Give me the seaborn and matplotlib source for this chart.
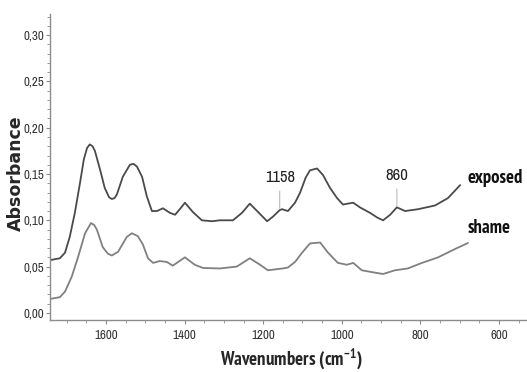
import matplotlib
matplotlib.use("Agg")
import matplotlib.pyplot as plt
import seaborn as sns
from matplotlib import font_manager
from matplotlib.font_manager import FontProperties
from matplotlib.ticker import MultipleLocator, FuncFormatter

# spectra (wavenumber in cm-1, absorbance)
exposed_wn = [1742, 1717, 1704, 1692, 1679, 1666, 1656, 1648, 1641, 1634, 1628, 1615,
              1603, 1592, 1585, 1578, 1572, 1557, 1539, 1530, 1521, 1508, 1496, 1483,
              1470, 1455, 1437, 1424, 1412, 1399, 1379, 1356, 1330, 1310, 1277, 1254,
              1234, 1213, 1190, 1175, 1158, 1152, 1137, 1119, 1106, 1092, 1081, 1063,
              1048, 1030, 1012, 997, 985, 971, 954, 928, 910, 895, 877, 860, 839, 806,
              763, 730, 699]
exposed_abs = [0.057, 0.059, 0.065, 0.082, 0.108, 0.140, 0.166, 0.178, 0.182, 0.180, 0.175, 0.155,
               0.135, 0.125, 0.123, 0.124, 0.128, 0.147, 0.160, 0.161, 0.158, 0.147, 0.126, 0.110,
               0.110, 0.113, 0.108, 0.106, 0.112, 0.119, 0.109, 0.100, 0.099, 0.100, 0.100, 0.108,
               0.118, 0.109, 0.099, 0.104, 0.111, 0.112, 0.110, 0.119, 0.130, 0.146, 0.154, 0.156,
               0.149, 0.135, 0.124, 0.117, 0.118, 0.119, 0.114, 0.108, 0.103, 0.100, 0.106, 0.114,
               0.110, 0.112, 0.116, 0.124, 0.138]

shame_wn = [1742, 1717, 1704, 1687, 1671, 1653, 1638, 1630, 1623, 1608, 1595, 1585,
            1569, 1547, 1534, 1519, 1506, 1493, 1480, 1463, 1445, 1430, 1399, 1374,
            1353, 1310, 1267, 1234, 1208, 1188, 1150, 1137, 1119, 1101, 1081, 1055,
            1035, 1010, 987, 971, 949, 923, 895, 865, 832, 796, 755, 712, 679]
shame_abs = [0.015, 0.017, 0.023, 0.039, 0.060, 0.086, 0.097, 0.095, 0.090, 0.071, 0.064, 0.062,
             0.066, 0.082, 0.086, 0.083, 0.074, 0.059, 0.054, 0.056, 0.055, 0.051, 0.060, 0.052,
             0.0485, 0.048, 0.050, 0.059, 0.052, 0.046, 0.048, 0.049, 0.055, 0.065, 0.075, 0.076,
             0.065, 0.054, 0.052, 0.054, 0.046, 0.044, 0.042, 0.046, 0.048, 0.054, 0.060, 0.069, 0.0755]

peak_labels = ["1158", "860"]
peak_wn = [1158, 860]
series_labels = ["exposed", "shame"]

sns.set_style("ticks")
plt.rcParams["font.family"] = ["Liberation Sans", "DejaVu Sans"]
plt.rcParams["mathtext.default"] = "regular"


def narrow_font(bold):
    # prefer an Arial Narrow-like face; otherwise plain Liberation Sans
    fonts = [f for f in font_manager.fontManager.ttflist if f.style == "normal"]
    for key in ("liberation sans narrow", "narrow"):
        for f in fonts:
            if key in f.name.lower() and (f.weight in (700, "bold")) == bold:
                return FontProperties(fname=f.fname)
    return FontProperties(family="Liberation Sans", weight="bold" if bold else "normal")


narrow_r = narrow_font(False)
narrow_b = narrow_font(True)

fig = plt.figure(figsize=(5.27, 3.72), dpi=100)
ax = fig.add_axes([0.095, 0.140, 0.905, 0.822])
renderer = fig.canvas.get_renderer()


def fit_width(t, px, size):
    # scale font size so the text is about as wide as in the reference
    t.set_fontsize(size)
    w = t.get_window_extent(renderer).width
    t.set_fontsize(size * px / w)


sns.lineplot(x=exposed_wn, y=exposed_abs, color="#4a4a4a", lw=1.3, sort=False, ax=ax)
sns.lineplot(x=shame_wn, y=shame_abs, color="#808080", lw=1.3, sort=False, ax=ax)

# peak markers
for lab, wn, yt, w in zip(peak_labels, peak_wn, [0.1413, 0.1435], [30, 23]):
    t = ax.annotate(lab, xy=(wn, exposed_abs[exposed_wn.index(wn)] + 0.002),
                    xytext=(wn, yt), ha="center", va="baseline", color="#222222",
                    fontproperties=narrow_r.copy(),
                    arrowprops=dict(arrowstyle="-", color="#bbbbbb", lw=0.8,
                                    shrinkA=2, shrinkB=0))
    fit_width(t, w, 11)

for lab, yb, w in zip(series_labels, [0.1405, 0.0863], [55, 43]):
    t = ax.text(681, yb, lab, va="baseline", ha="left", fontproperties=narrow_b.copy(),
                color="#111111")
    fit_width(t, w, 12)

ax.set_xlim(1742, 529)
ax.set_ylim(-0.0076, 0.3227)
ax.xaxis.set_major_locator(MultipleLocator(200))
ax.xaxis.set_minor_locator(MultipleLocator(50))
ax.yaxis.set_major_locator(MultipleLocator(0.05))
ax.yaxis.set_minor_locator(MultipleLocator(0.01))
ax.yaxis.set_major_formatter(FuncFormatter(lambda v, p: f"{v:.2f}".replace(".", ",")))

sns.despine(ax=ax)
for s in ["left", "bottom"]:
    ax.spines[s].set_color("#8c8c8c")
    ax.spines[s].set_linewidth(1.0)
ax.tick_params(which="both", colors="#8c8c8c", labelcolor="#333333")
ax.tick_params(which="major", length=3)
ax.tick_params(which="minor", length=2)
ax.tick_params(axis="x", pad=4)
ax.tick_params(axis="y", pad=1.5)
fig.canvas.draw()
probe = fig.text(0, 0, "0,30", fontproperties=narrow_r.copy())
fit_width(probe, 21, 8)
tick_size = probe.get_fontsize()
probe.remove()
for lbl in ax.get_xticklabels() + ax.get_yticklabels():
    lbl.set_fontproperties(narrow_r.copy())
    lbl.set_fontsize(tick_size)

fig.text(15.5 / 527, 1 - 173 / 372, "Absorbance", rotation=90, ha="center", va="center",
         fontsize=12.5, fontweight="bold", family="DejaVu Sans")
xl = fig.text(291 / 527, 1 - 365 / 372, "Wavenumbers (cm$^{-1}$)", ha="center", va="baseline",
              fontproperties=narrow_b.copy())
fit_width(xl, 142, 12)

fig.savefig("out.png", dpi=100)
